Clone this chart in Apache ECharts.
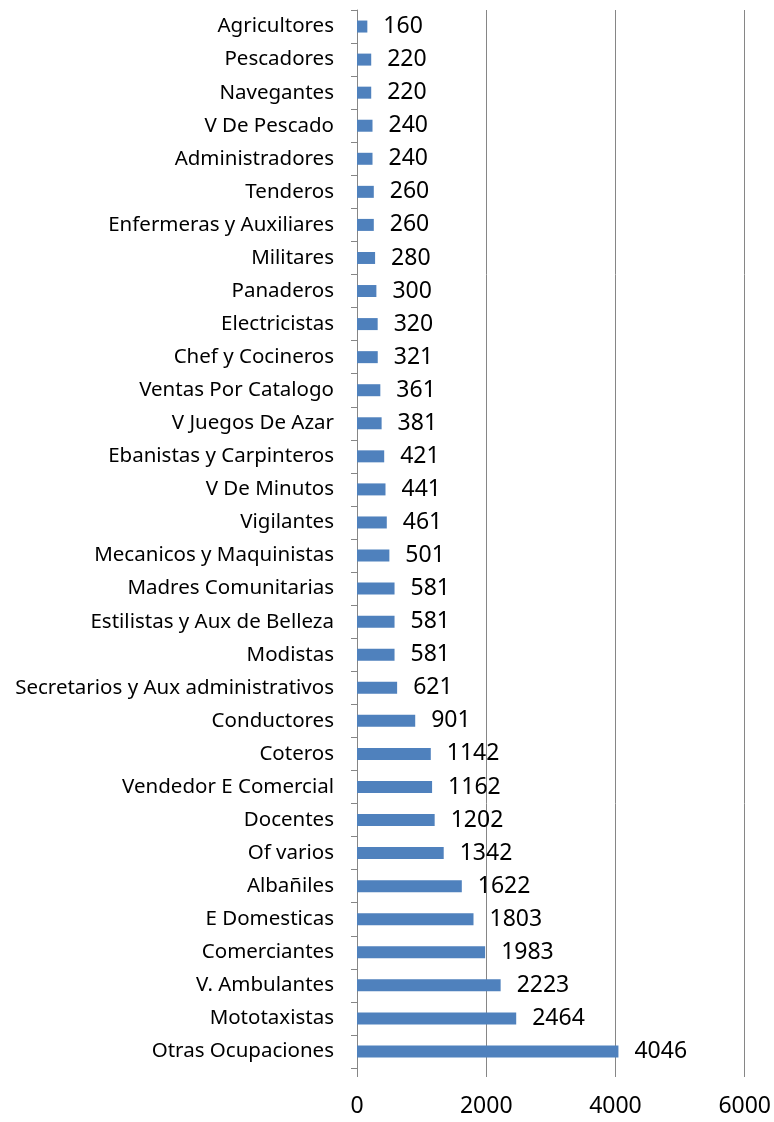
<!DOCTYPE html>
<html>
<head>
<meta charset="utf-8">
<script src="https://cdn.jsdelivr.net/npm/echarts@6/dist/echarts.min.js"></script>
<style>
  html, body { margin: 0; padding: 0; background: #fff; }
  #chart { width: 774px; height: 1122px; }
</style>
</head>
<body>
<div id="chart"></div>
<script>
// categories listed bottom to top
var ocupaciones = [
  "Otras Ocupaciones", "Mototaxistas", "V. Ambulantes", "Comerciantes",
  "E Domesticas", "Albañiles", "Of varios", "Docentes",
  "Vendedor E Comercial", "Coteros", "Conductores",
  "Secretarios y Aux administrativos", "Modistas",
  "Estilistas y Aux de Belleza", "Madres Comunitarias",
  "Mecanicos y Maquinistas", "Vigilantes", "V De Minutos",
  "Ebanistas y Carpinteros", "V Juegos De Azar", "Ventas Por Catalogo",
  "Chef y Cocineros", "Electricistas", "Panaderos", "Militares",
  "Enfermeras y Auxiliares", "Tenderos", "Administradores",
  "V De Pescado", "Navegantes", "Pescadores", "Agricultores"
];
var cantidad = [
  4046, 2464, 2223, 1983, 1803, 1622, 1342, 1202, 1162, 1142, 901,
  621, 581, 581, 581, 501, 461, 441, 421, 381, 361, 321, 320, 300,
  280, 260, 260, 240, 240, 220, 220, 160
];
var xTicks = [0, 2000, 4000, 6000];

var chart = echarts.init(document.getElementById("chart"));
chart.setOption({
  animation: false,
  grid: { left: 357, right: 28, top: 10, bottom: 54 },
  xAxis: {
    type: "value",
    min: xTicks[0],
    max: xTicks[xTicks.length - 1],
    interval: 2000,
    axisLine: { show: false },
    axisTick: { show: true, length: 9, lineStyle: { color: "#868686" } },
    splitLine: { show: true, lineStyle: { color: "#868686", width: 1 } },
    axisLabel: {
      margin: 27,
      color: "#000",
      fontFamily: "Noto Sans",
      fontSize: 23,
      formatter: function (v) { return String(v); }
    }
  },
  yAxis: {
    type: "category",
    data: ocupaciones,
    axisLine: { show: true, lineStyle: { color: "#868686" } },
    axisTick: { show: true, length: 6, lineStyle: { color: "#868686" } },
    axisLabel: {
      margin: 23,
      color: "#000",
      fontFamily: "Noto Sans",
      fontSize: 20.5,
      interval: 0
    }
  },
  series: [{
    type: "bar",
    data: cantidad,
    barWidth: 12,
    itemStyle: { color: "#4f81bd" },
    label: {
      show: true,
      position: "right",
      distance: 16,
      color: "#000",
      fontFamily: "Noto Sans",
      fontSize: 23
    }
  }]
});
</script>
</body>
</html>
